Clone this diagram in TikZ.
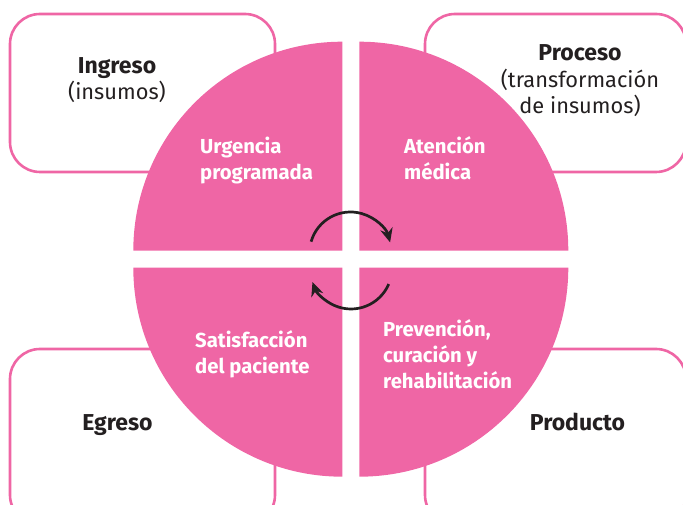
\documentclass[tikz,border=0pt]{standalone}
\usepackage{fontspec}
\setmainfont{Fira Sans}
\usetikzlibrary{arrows.meta}
\definecolor{rosa}{RGB}{239,102,165}
\definecolor{tinta}{RGB}{35,31,32}
\newcommand\titulo[1]{{\bfseries\fontsize{23}{26.5}\selectfont #1}}

\begin{document}
\begin{tikzpicture}[
  x=1pt,y=1pt,
  stage/.style={draw=rosa,line width=2.6pt,rounded corners=30pt},
  petal/.style={fill=rosa},
  outer/.style={text=tinta,inner sep=0pt,align=center,anchor=base,font=\fontsize{21.8}{26.5}\selectfont},
  inner/.style={text=white,inner sep=0pt,align=left,anchor=base west,font=\bfseries\fontsize{20.3}{26}\selectfont},
  cyc/.style={draw=tinta,line width=2.7pt,-{Stealth[length=14pt,width=12.5pt]}}
]
  \useasboundingbox (0,0) rectangle (683,505);

  % marcos exteriores
  \draw[stage] (10,333) rectangle (275,491);
  \draw[stage] (425,333) rectangle (686,491);
  \draw[stage] (10,-20) rectangle (275,156);
  \draw[stage] (425,-20) rectangle (686,156);

  % cuadrantes del circulo
  \foreach \a/\dx/\dy in {0/1/1,90/-1/1,180/-1/-1,270/1/-1}
    \fill[petal] ({350.8+\dx*8.5},{245.8+\dy*8.5}) -- ++(\a:209)
      arc[start angle=\a,delta angle=90,radius=209] -- cycle;

  % textos exteriores (base = ultima linea)
  \node[outer] (ingreso) at (117,405) {\titulo{Ingreso}\\(insumos)};
  \node[outer] (proceso) at (580,391) {\titulo{Proceso}\\(transformación\\de insumos)};
  \node[outer] (egreso) at (117.5,74) {\titulo{Egreso}};
  \node[outer] (producto) at (577.5,74) {\titulo{Producto}};

  % textos interiores
  \node[inner] (urgencia) at (200,325.3) {Urgencia\\programada};
  \node[inner] (atencion) at (404,325) {Atención\\médica};
  \node[inner] (satisf) at (195,131) {Satisfacción\\del paciente};
  \node[inner] (prev) at (383,116) {Prevención,\\curación y\\rehabilitación};

  % flechas del ciclo
  \coordinate (giroA) at (350.5,252);
  \coordinate (giroB) at (351,237);
  \draw[cyc] ([shift={(164:41)}]giroA) arc[start angle=164,end angle=15,radius=41];
  \draw[cyc] ([shift={(-23:41)}]giroB) arc[start angle=-23,end angle=-160,radius=41];
\end{tikzpicture}
\end{document}
